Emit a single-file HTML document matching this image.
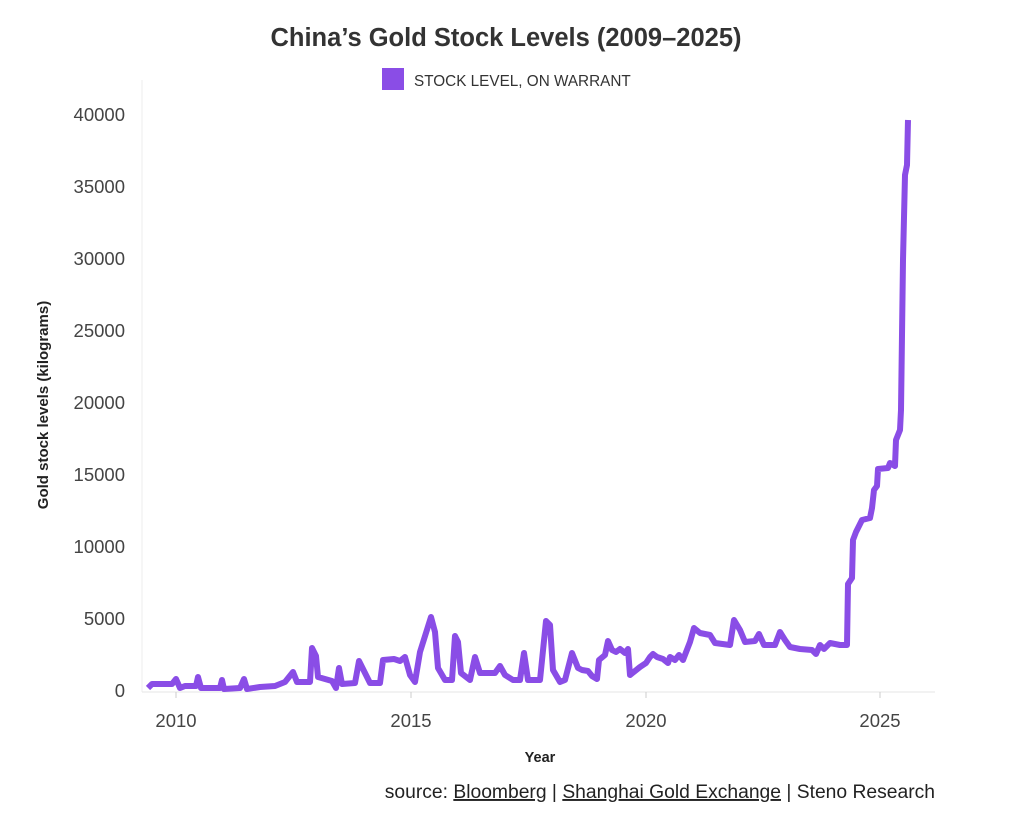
<!DOCTYPE html>
<html><head><meta charset="utf-8"><style>
body{margin:0;background:#fff;}
svg{display:block;font-family:"Liberation Sans",Arial,sans-serif;}
</style></head><body>
<svg width="1011" height="813" viewBox="0 0 1011 813">
<text x="506" y="46" text-anchor="middle" font-size="25.5" font-weight="bold" fill="#333">China’s Gold Stock Levels (2009–2025)</text>
<rect x="382" y="68" width="22" height="22" fill="#8a4de6"/>
<text x="414" y="86" font-size="15.3" fill="#333">STOCK LEVEL, ON WARRANT</text>
<line x1="142" y1="80" x2="142" y2="692" stroke="#eee"/>
<line x1="142" y1="692" x2="935" y2="692" stroke="#e6e6e6"/>
<g font-size="18.5" fill="#444" text-anchor="end">
<text x="125" y="697">0</text><text x="125" y="625">5000</text><text x="125" y="553">10000</text>
<text x="125" y="481">15000</text><text x="125" y="409">20000</text><text x="125" y="337">25000</text>
<text x="125" y="265">30000</text><text x="125" y="193">35000</text><text x="125" y="121">40000</text>
</g>
<g stroke="#ccc"><line x1="176" y1="692" x2="176" y2="698"/><line x1="411" y1="692" x2="411" y2="698"/><line x1="646" y1="692" x2="646" y2="698"/><line x1="880" y1="692" x2="880" y2="698"/></g>
<g font-size="18.5" fill="#444" text-anchor="middle">
<text x="176" y="727">2010</text><text x="411" y="727">2015</text><text x="646" y="727">2020</text><text x="880" y="727">2025</text>
</g>
<text x="540" y="762" text-anchor="middle" font-size="14.5" font-weight="bold" fill="#222">Year</text>
<text transform="translate(48,405) rotate(-90)" text-anchor="middle" font-size="15" font-weight="bold" fill="#222">Gold stock levels (kilograms)</text>
<polyline fill="none" stroke="#8a4de6" stroke-width="6" stroke-linejoin="round" points="148,688 152,684 172,684 176,679 180,688 185,686 196,686 198,677 201,688 220,688 222,680 224,689 240,688 244,679 247,689 260,687 275,686 285,682 293,672 297,682 310,682 312,648 316,656 318,677 325,679 332,681 336,688 339,668 342,684 355,683 359,661 365,673 370,683 380,683 383,660 394,659 400,661 405,657 410,675 415,682 420,652 431,617 435,632 438,668 445,680 452,680 455,636 458,642 461,673 470,680 475,657 480,673 495,673 500,666 505,675 513,680 520,680 524,653 528,680 540,680 546,621 550,625 553,670 560,682 565,680 572,653 578,668 582,670 588,671 592,676 597,679 599,660 605,655 608,641 612,650 616,652 620,649 625,653 628,649 630,675 640,667 646,663 650,657 653,654 657,657 663,659 668,663 670,657 675,660 679,655 683,660 690,642 694,628 700,633 710,635 715,643 730,645 734,620 740,630 745,642 755,641 759,634 764,645 775,645 780,632 785,640 790,647 800,649 812,650 816,654 820,645 824,649 830,643 840,645 847,645 848,584 852,578 853,540 856,532 862,520 870,518 872,508 874,490 877,486 878,469 888,468 890,463 895,466 896,440 900,430 901,410 903,260 905,175 907,165 908,120"/>
<text x="935" y="798" text-anchor="end" font-size="19.3" fill="#222">source: <tspan text-decoration="underline">Bloomberg</tspan> | <tspan text-decoration="underline">Shanghai Gold Exchange</tspan> | Steno Research</text>
</svg>
</body></html>
